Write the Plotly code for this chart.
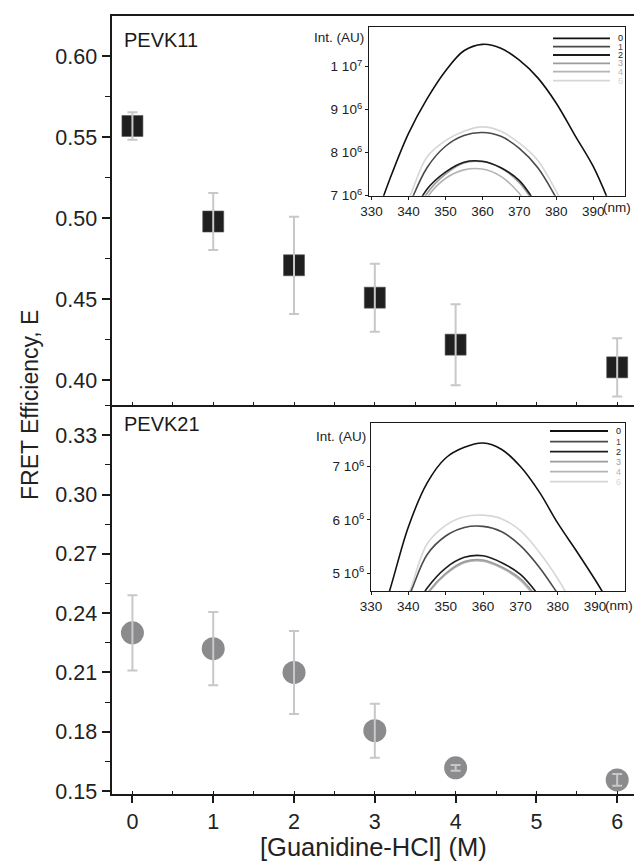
import plotly.graph_objects as go

# ---------------- data ----------------
gdn = [0, 1, 2, 3, 4, 6]
E_pevk11 = [0.557, 0.498, 0.471, 0.451, 0.422, 0.408]
E_pevk11_err = [0.0085, 0.0176, 0.030, 0.021, 0.025, 0.018]
E_pevk21 = [0.230, 0.222, 0.210, 0.1805, 0.1617, 0.1556]
E_pevk21_err = [0.019, 0.0185, 0.021, 0.0137, 0.0014, 0.003]

wavelength = [330, 335, 340, 345, 350, 355, 360, 365, 370, 375, 380, 385, 390, 395]
# PEVK11 emission spectra (units of 1e6 AU)
s11_0 = [6.2, 7.4, 8.45, 9.25, 9.9, 10.37, 10.52, 10.43, 10.15, 9.74, 9.15, 8.41, 7.68, 6.7]
s11_1 = [3.9, 5.8, 6.75, 7.65, 8.15, 8.40, 8.47, 8.38, 8.10, 7.65, 6.95, 6.2, 5.4, 4.5]
s11_2 = [3.5, 4.6, 6.3, 7.15, 7.55, 7.78, 7.80, 7.65, 7.35, 6.75, 6.0, 5.2, 4.4, 3.6]
s11_3 = [3.4, 4.5, 6.2, 7.05, 7.5, 7.76, 7.79, 7.65, 7.3, 6.7, 5.95, 5.1, 4.3, 3.5]
s11_4 = [3.2, 4.3, 5.9, 6.95, 7.4, 7.6, 7.62, 7.45, 7.05, 6.4, 5.6, 4.8, 4.0, 3.2]
s11_6 = [4.6, 5.9, 6.9, 7.9, 8.28, 8.50, 8.60, 8.50, 8.22, 7.82, 7.1, 6.3, 5.4, 4.5]
# PEVK21 emission spectra (units of 1e6 AU)
s21_0 = [3.6, 4.68, 5.87, 6.69, 7.16, 7.36, 7.44, 7.32, 7.0, 6.53, 5.94, 5.42, 4.88, 4.3]
s21_1 = [2.7, 3.9, 4.55, 5.35, 5.7, 5.86, 5.88, 5.78, 5.52, 5.12, 4.62, 4.1, 3.5, 2.9]
s21_2 = [2.4, 3.3, 4.1, 4.72, 5.1, 5.3, 5.33, 5.2, 4.98, 4.58, 4.1, 3.5, 2.9, 2.3]
s21_3 = [2.3, 3.2, 4.0, 4.62, 5.0, 5.22, 5.25, 5.12, 4.9, 4.5, 4.0, 3.4, 2.8, 2.2]
s21_4 = [2.3, 3.2, 4.0, 4.6, 4.98, 5.2, 5.23, 5.1, 4.87, 4.46, 3.95, 3.4, 2.8, 2.2]
s21_6 = [2.9, 3.9, 4.6, 5.55, 5.9, 6.06, 6.09, 6.02, 5.80, 5.40, 4.9, 4.3, 3.7, 3.1]

spec_labels = ["0", "1", "2", "3", "4", "6"]
spec_colors = ["#111111", "#4a4a4a", "#1c1c1c", "#9c9c9c", "#b4b4b4", "#d6d6d6"]

top_ticks = [0.40, 0.45, 0.50, 0.55, 0.60]
bot_ticks = [0.15, 0.18, 0.21, 0.24, 0.27, 0.30, 0.33]
inset_x_ticks = [330, 340, 350, 360, 370, 380, 390]
inset11_y_ticks = [7e6, 8e6, 9e6, 1e7]
inset11_y_text = ["7 10<sup>6</sup>", "8 10<sup>6</sup>", "9 10<sup>6</sup>", "1 10<sup>7</sup>"]
inset21_y_ticks = [5e6, 6e6, 7e6]
inset21_y_text = ["5 10<sup>6</sup>", "6 10<sup>6</sup>", "7 10<sup>6</sup>"]

# ---------------- geometry helpers ----------------
W, H = 634, 864
def px(x):
    return x / W
def py(y):
    return 1 - y / H

FONT = "Liberation Sans, Arial, sans-serif"
AX = "#1a1a1a"
ERR = "#c8c8c8"

fig = go.Figure()

# Top panel: PEVK11 (squares)
fig.add_trace(go.Scatter(x=gdn, y=E_pevk11, mode="markers", xaxis="x2", yaxis="y2",
                         marker=dict(symbol="square", size=21, color="#1f1f1f",
                                     line=dict(width=0.6, color="#555555")),
                         showlegend=False))
fig.add_trace(go.Scatter(x=gdn, y=E_pevk11, mode="markers", xaxis="x2", yaxis="y2",
                         marker=dict(size=1, color="rgba(0,0,0,0)"),
                         error_y=dict(type="data", array=E_pevk11_err, color=ERR,
                                      thickness=2, width=5),
                         showlegend=False))
# Bottom panel: PEVK21 (circles)
fig.add_trace(go.Scatter(x=gdn, y=E_pevk21, mode="markers", xaxis="x", yaxis="y",
                         marker=dict(symbol="circle", size=23, color="#8b8b8d"),
                         showlegend=False))
fig.add_trace(go.Scatter(x=gdn, y=E_pevk21, mode="markers", xaxis="x", yaxis="y",
                         marker=dict(size=1, color="rgba(0,0,0,0)"),
                         error_y=dict(type="data", array=E_pevk21_err, color=ERR,
                                      thickness=2, width=5),
                         showlegend=False))

# Insets
spec11 = [s11_0, s11_1, s11_2, s11_3, s11_4, s11_6]
spec21 = [s21_0, s21_1, s21_2, s21_3, s21_4, s21_6]
order = [5, 4, 3, 2, 1, 0]
for i in order:
    fig.add_trace(go.Scatter(x=wavelength, y=[v * 1e6 for v in spec11[i]], mode="lines",
                             xaxis="x3", yaxis="y3", line=dict(color=spec_colors[i], width=1.6,
                                                               shape="spline", smoothing=1.0),
                             showlegend=False))
    fig.add_trace(go.Scatter(x=wavelength, y=[v * 1e6 for v in spec21[i]], mode="lines",
                             xaxis="x4", yaxis="y4", line=dict(color=spec_colors[i], width=1.6,
                                                               shape="spline", smoothing=1.0),
                             showlegend=False))

tickfont = dict(family=FONT, size=21.5, color="#222222")
ifont = dict(family=FONT, size=13.5, color="#222222")

main_x_dom = [px(111.5), 1.0]
xrange = [-0.259, 6.208]

layout = dict(
    width=W, height=H, margin=dict(l=0, r=0, t=0, b=0, autoexpand=False),
    paper_bgcolor="white", plot_bgcolor="white", showlegend=False,
    font=dict(family=FONT),
    xaxis=dict(domain=main_x_dom, range=xrange, anchor="y", showgrid=False, zeroline=False,
               showline=True, linewidth=2, linecolor=AX, ticks="outside", ticklen=7,
               tickwidth=1.5, tickcolor=AX, tickvals=[0, 1, 2, 3, 4, 5, 6], tickfont=tickfont,
               minor=dict(ticks="inside", dtick=0.5, ticklen=3, tickcolor=AX, tickwidth=1)),
    yaxis=dict(domain=[py(794), py(405)], range=[0.14848, 0.34528], anchor="x", showgrid=False,
               zeroline=False, showline=True, linewidth=2, linecolor=AX, ticks="outside",
               ticklen=8, tickwidth=1.5, tickcolor=AX, tickvals=bot_ticks, tickformat=".2f",
               tickfont=tickfont,
               minor=dict(ticks="outside", dtick=0.015, ticklen=5, tickcolor=AX, tickwidth=1.2)),
    xaxis2=dict(domain=main_x_dom, range=xrange, anchor="y2", showgrid=False, zeroline=False,
                showline=True, mirror=True, linewidth=2, linecolor=AX, ticks="inside", ticklen=3,
                tickwidth=1, tickcolor=AX, dtick=0.5, tick0=0, showticklabels=False),
    yaxis2=dict(domain=[py(405), py(16)], range=[0.38475, 0.62488], anchor="x2", showgrid=False,
                zeroline=False, showline=True, linewidth=2, linecolor=AX, ticks="outside",
                ticklen=8, tickwidth=1.5, tickcolor=AX, tickvals=top_ticks, tickformat=".2f",
                tickfont=tickfont,
                minor=dict(ticks="outside", dtick=0.025, ticklen=5, tickcolor=AX, tickwidth=1.2)),
    xaxis3=dict(domain=[px(369), px(625)], range=[329.3, 398.6], anchor="y3", showgrid=False,
                zeroline=False, showline=True, mirror=True, linewidth=1.3, linecolor=AX,
                ticks="outside", ticklen=3, tickcolor=AX, tickvals=inset_x_ticks, tickfont=ifont),
    yaxis3=dict(domain=[py(195.7), py(26.7)], range=[7.0e6, 1.093e7], anchor="x3", showgrid=False,
                zeroline=False, showline=True, mirror=True, linewidth=1.3, linecolor=AX,
                ticks="outside", ticklen=3, tickcolor=AX, tickvals=inset11_y_ticks,
                ticktext=inset11_y_text, tickfont=ifont),
    xaxis4=dict(domain=[px(371), px(625)], range=[330.0, 398.0], anchor="y4", showgrid=False,
                zeroline=False, showline=True, mirror=True, linewidth=1.3, linecolor=AX,
                ticks="outside", ticklen=3, tickcolor=AX, tickvals=inset_x_ticks, tickfont=ifont),
    yaxis4=dict(domain=[py(591), py(423.3)], range=[4.67e6, 7.81e6], anchor="x4", showgrid=False,
                zeroline=False, showline=True, mirror=True, linewidth=1.3, linecolor=AX,
                ticks="outside", ticklen=3, tickcolor=AX, tickvals=inset21_y_ticks,
                ticktext=inset21_y_text, tickfont=ifont),
)
fig.update_layout(**layout)

ann = []
ann.append(dict(text="PEVK11", x=px(122), y=py(40), xref="paper", yref="paper",
                xanchor="left", yanchor="middle", showarrow=False,
                font=dict(family=FONT, size=20, color="#1a1a1a")))
ann.append(dict(text="PEVK21", x=px(122), y=py(424), xref="paper", yref="paper",
                xanchor="left", yanchor="middle", showarrow=False,
                font=dict(family=FONT, size=20, color="#1a1a1a")))
ann.append(dict(text="FRET Efficiency, E", x=px(30), y=py(405), xref="paper", yref="paper",
                xanchor="center", yanchor="middle", textangle=-90, showarrow=False,
                font=dict(family=FONT, size=23, color="#222222")))
ann.append(dict(text="[Guanidine-HCl] (M)", x=px(373), y=py(847), xref="paper", yref="paper",
                xanchor="center", yanchor="middle", showarrow=False,
                font=dict(family=FONT, size=25.5, color="#222222")))
for (yy, xr) in [(37, 366), (436, 368)]:
    ann.append(dict(text="Int. (AU)", x=px(xr), y=py(yy), xref="paper", yref="paper",
                    xanchor="right", yanchor="middle", showarrow=False, font=ifont))
for (yy, xl) in [(208, 601), (605, 603)]:
    ann.append(dict(text="(nm)", x=px(xl), y=py(yy), xref="paper", yref="paper",
                    xanchor="left", yanchor="middle", showarrow=False, font=ifont))

shapes = []
leg_sets = [
    (553, 610, 620, [38.3, 46.7, 55.0, 63.3, 71.7, 80.7]),
    (550, 608, 618, [431.0, 441.7, 451.7, 461.7, 471.7, 481.7]),
]
for (x0, x1, xt, ys) in leg_sets:
    for lab, col, yy in zip(spec_labels, spec_colors, ys):
        shapes.append(dict(type="line", xref="paper", yref="paper", x0=px(x0), x1=px(x1),
                           y0=py(yy), y1=py(yy), line=dict(color=col, width=1.8)))
        ann.append(dict(text=lab, x=px(xt), y=py(yy), xref="paper", yref="paper",
                        xanchor="center", yanchor="middle", showarrow=False,
                        font=dict(family=FONT, size=9, color=col)))

fig.update_layout(annotations=ann, shapes=shapes)
fig.write_html("out.html", config={"responsive": False, "displayModeBar": False},
               post_script="document.body.style.margin='0';document.body.style.overflow='hidden';")
